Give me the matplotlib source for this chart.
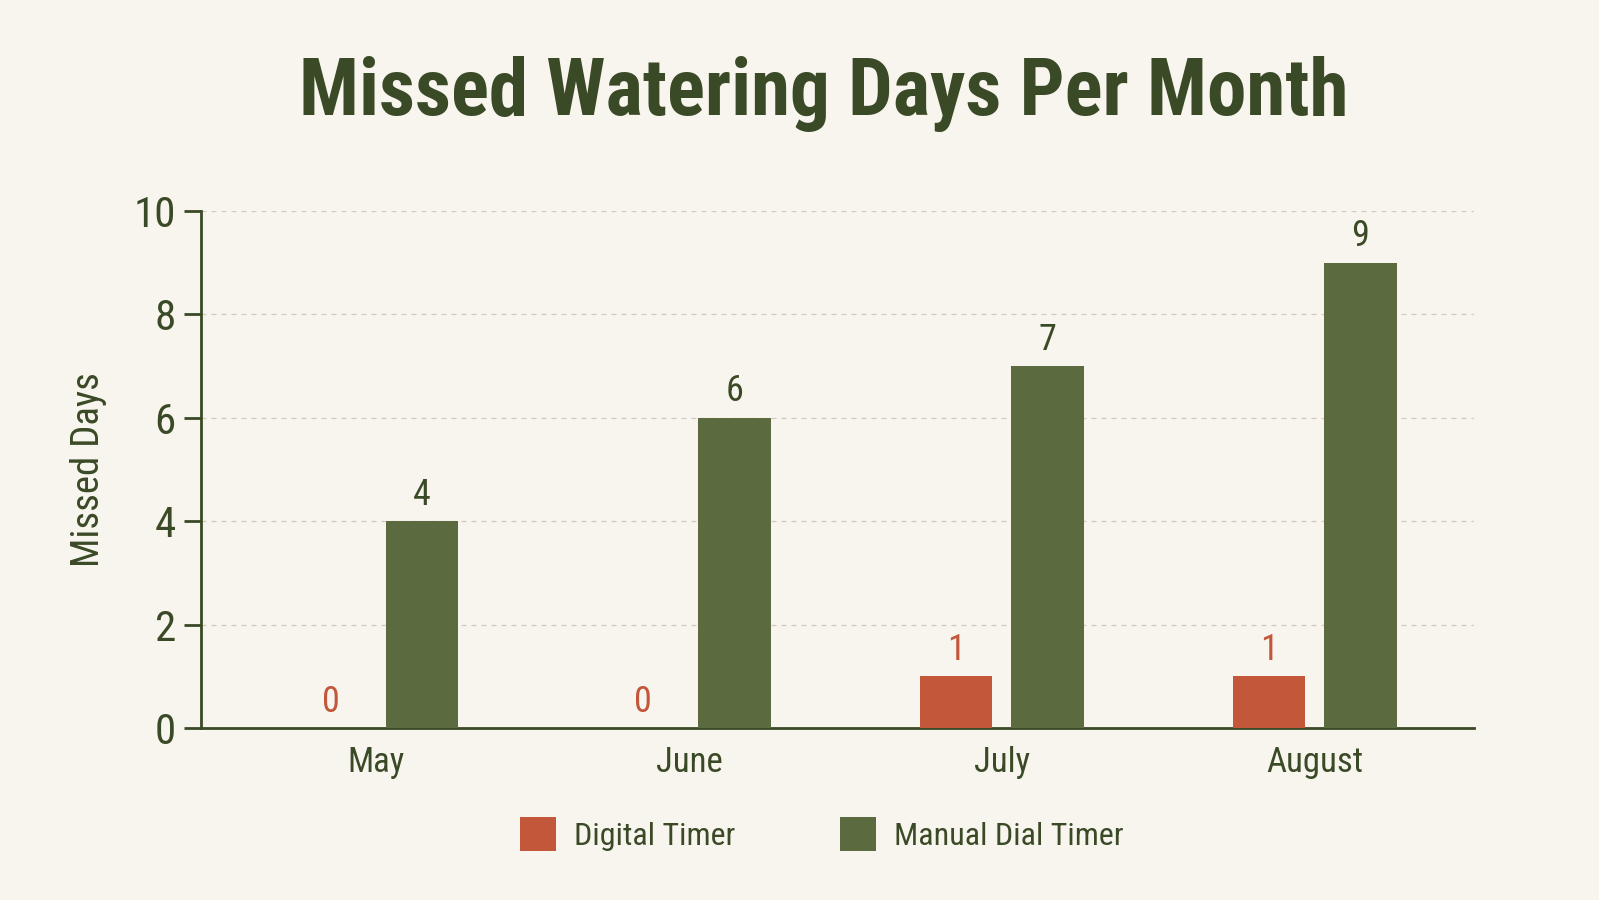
#/usr/bin/env python
'''
Grouped bar chart: missed watering days per month, digital vs manual timer
'''

import numpy as np
import matplotlib.pyplot as plt
from matplotlib import font_manager

months = ['May', 'June', 'July', 'August']
digital = [0, 0, 1, 1]
manual = [4, 6, 7, 9]
series_names = ['Digital Timer', 'Manual Dial Timer']
yticks = [0, 2, 4, 6, 8, 10]

BG = '#f8f5ee'
RED = '#c2573a'
GREEN = '#5b6b3f'
TEXT = '#3b4a26'


def pick_font(candidates):
    '''
        First installed family from a list, else DejaVu Sans
    '''
    for name in candidates:
        try:
            font_manager.findfont(name, fallback_to_default=False)
            return name, True
        except ValueError:
            pass
    return 'DejaVu Sans', False


FONT, NARROW = pick_font(['Roboto Condensed', 'Archivo Narrow', 'Liberation Sans Narrow'])
MEDIUM, _ = pick_font(['Roboto Condensed Medium', FONT])
plt.rcParams['font.family'] = [MEDIUM, 'DejaVu Sans']


def main():
    '''
        Draw the chart and save it
    '''
    fig = plt.figure(figsize=(15.99, 9.0), dpi=100, facecolor=BG)
    ax = fig.add_axes([0.1257, 0.191, 0.7963, 0.5746])
    ax.set_facecolor(BG)

    x = np.arange(len(months))
    width = 0.232
    off = 0.146

    b1 = ax.bar(x - off, digital, width, color=RED, label=series_names[0], zorder=3)
    b2 = ax.bar(x + off, manual, width, color=GREEN, label=series_names[1], zorder=3)

    for rect, v in zip(b1, digital):
        ax.annotate(str(v), (rect.get_x() + rect.get_width() / 2, v),
                    xytext=(0, 6), textcoords='offset points', ha='center', va='bottom',
                    fontsize=26, color=RED)
    for rect, v in zip(b2, manual):
        ax.annotate(str(v), (rect.get_x() + rect.get_width() / 2, v),
                    xytext=(0, 6), textcoords='offset points', ha='center', va='bottom',
                    fontsize=26, color=TEXT)

    ax.set_xlim(-0.56, 3.51)
    ax.set_ylim(0, 10)
    ax.set_yticks(yticks)
    ax.set_xticks(x)
    ax.set_xticklabels(months)
    ax.tick_params(axis='y', length=12, width=2, color=TEXT, labelsize=31, labelcolor=TEXT, pad=6)
    ax.tick_params(axis='x', length=0, labelsize=25, labelcolor=TEXT, pad=13)

    ax.grid(axis='y', linestyle=(0, (4, 4)), color='#cfcbc2', linewidth=0.9, zorder=0)
    for s in ['top', 'right']:
        ax.spines[s].set_visible(False)
    for s in ['left', 'bottom']:
        ax.spines[s].set_color(TEXT)
        ax.spines[s].set_linewidth(2)

    ax.set_ylabel('Missed Days', fontsize=28, color=TEXT, labelpad=19)

    fig.text(0.515, 0.895, 'Missed Watering Days Per Month', ha='center', va='center',
             fontsize=57 if NARROW else 44, fontweight='bold', color=TEXT,
             family=[FONT, 'DejaVu Sans'])

    fig.legend(handles=[b1, b2], loc='center', bbox_to_anchor=(0.514, 0.073), ncol=2,
               frameon=False, fontsize=23, handlelength=1.12, handleheight=1.25,
               handletextpad=0.55, columnspacing=3.3, labelcolor=TEXT)

    fig.savefig('out.png', dpi=100, facecolor=BG)
    plt.close(fig)


if __name__ == '__main__':
    main()
